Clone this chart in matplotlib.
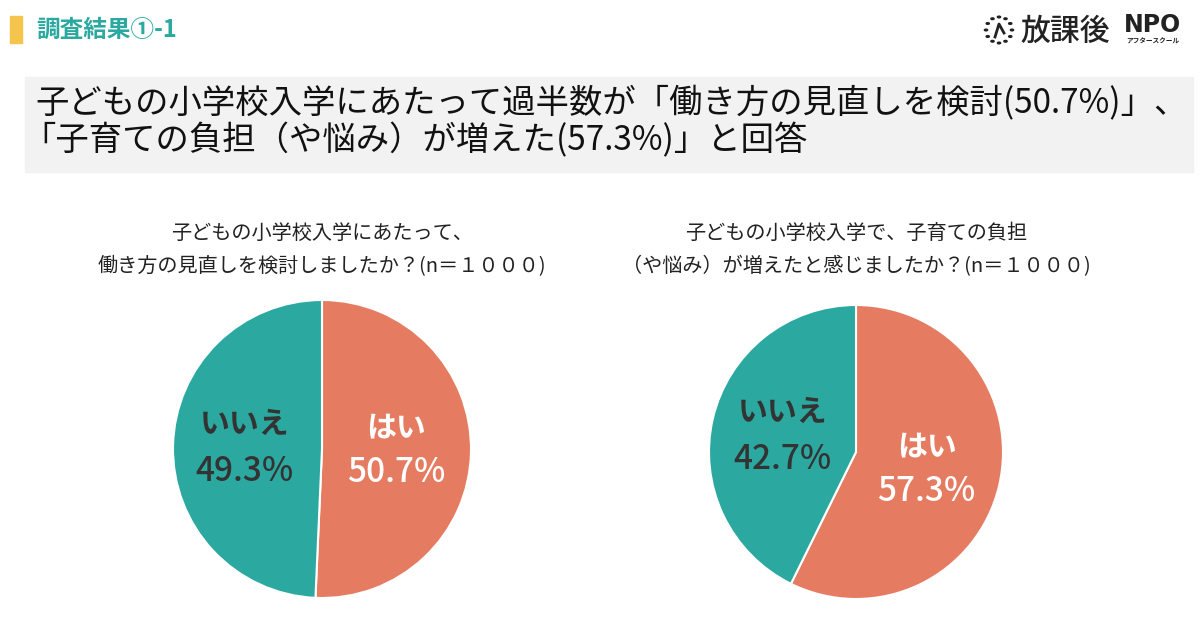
import matplotlib
matplotlib.use('Agg')
import matplotlib.pyplot as plt
from matplotlib.patches import Rectangle
import numpy as np

plt.rcParams['font.family'] = ['Noto Sans CJK JP', 'DejaVu Sans']

# data
labels = ["はい", "いいえ"]
q1_values = [50.7, 49.3]
q2_values = [57.3, 42.7]
q1_title = "子どもの小学校入学にあたって、\n働き方の見直しを検討しましたか？(n＝１０００)"
q2_title = "子どもの小学校入学で、子育ての負担\n（や悩み）が増えたと感じましたか？(n＝１０００)"
headline = ["子どもの小学校入学にあたって過半数が「働き方の見直しを検討(50.7%)」、",
            "「子育ての負担（や悩み）が増えた(57.3%)」と回答"]

salmon = "#E57C61"
teal = "#2BA9A1"
dark = "#333333"

W, H = 1200, 641
fig = plt.figure(figsize=(W / 100, H / 100), dpi=100)


def fx(px):
    return px / W


def fy(py):
    return 1 - py / H


# header
fig.patches.append(Rectangle((fx(10), fy(43)), fx(12), 27 / H, transform=fig.transFigure,
                             color="#F5C44C", zorder=1))
fig.text(fx(36), fy(30), "調査結果①-1", color=teal, fontsize=17, fontweight="bold",
         va="center", ha="left")

# logo
ang = np.linspace(0, 2 * np.pi, 12, endpoint=False)
lx, ly, lr = 999, 30, 13
for a in ang:
    fig.patches.append(plt.Circle((fx(lx + lr * np.cos(a)), fy(ly + lr * np.sin(a))), 1.6 / W,
                                  transform=fig.transFigure, color="#222222"))
fig.lines.append(plt.Line2D([fx(995), fx(999), fx(1004)], [fy(37), fy(24), fy(33)],
                            transform=fig.transFigure, color="#222222", lw=2))
fig.text(fx(1020), fy(31), "放課後", fontsize=21.5, color="#222222", va="center", ha="left",
         fontweight="medium")
fig.text(fx(1124), fy(25), "NPO", fontsize=17, color="#222222", va="center", ha="left",
         family=["DejaVu Sans"], fontweight="bold")
fig.text(fx(1126), fy(41), "アフタースクール", fontsize=4.8, color="#222222", va="center",
         ha="left", fontweight="bold")

# headline box
fig.patches.append(Rectangle((fx(25), fy(172)), (1193 - 25) / W, 95 / H, transform=fig.transFigure,
                             color="#F2F2F2", zorder=0))
fig.text(fx(35), fy(104), headline[0], fontsize=24, color="#111111", va="center", ha="left")
fig.text(fx(22), fy(141), headline[1], fontsize=24, color="#111111", va="center", ha="left")


def draw_pie(cx, cy, r, values, title, label_pos):
    ax = fig.add_axes([fx(cx - r), fy(cy + r), 2 * r / W, 2 * r / H])
    ax.pie(values, colors=[salmon, teal], startangle=90, counterclock=False,
           wedgeprops=dict(edgecolor="white", linewidth=1.5))
    ax.set_xlim(-1, 1)
    ax.set_ylim(-1, 1)
    text_colors = ["white", dark]
    for i in range(len(values)):
        x, y1, y2 = label_pos[i]
        ax.text(x, y1, labels[i], ha="center", va="center", fontsize=21.5, fontweight="bold",
                color=text_colors[i])
        ax.text(x, y2, "%.1f%%" % values[i], ha="center", va="center", fontsize=24,
                color=text_colors[i], fontweight="medium")
    fig.text(fx(cx), fy(250), title, ha="center", va="center", fontsize=14.5, color="#222222",
             linespacing=1.75)


draw_pie(322, 449, 149, q1_values, q1_title, [(0.50, 0.14, -0.16), (-0.52, 0.17, -0.15)])
draw_pie(856, 452, 147, q2_values, q2_title, [(0.48, 0.03, -0.27), (-0.50, 0.27, -0.05)])

fig.savefig("out.png", dpi=100, facecolor="white")
